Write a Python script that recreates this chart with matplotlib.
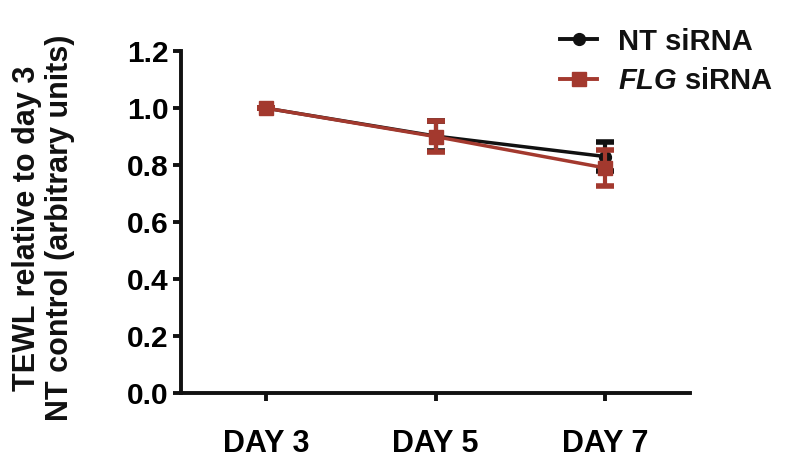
import matplotlib
matplotlib.use("Agg")
import matplotlib.pyplot as plt
from matplotlib.lines import Line2D

plt.rcParams['font.family'] = ['Liberation Sans', 'DejaVu Sans']
plt.rcParams['font.weight'] = 'bold'
plt.rcParams['mathtext.fontset'] = 'custom'
plt.rcParams['mathtext.bfit'] = 'Liberation Sans:italic:bold'
plt.rcParams['mathtext.it'] = 'Liberation Sans:italic:bold'
plt.rcParams['mathtext.rm'] = 'Liberation Sans:bold'

categories = ["DAY 3", "DAY 5", "DAY 7"]
nt_mean = [1.0, 0.902, 0.83]
nt_err = [0.0, 0.052, 0.05]
flg_mean = [1.0, 0.90, 0.79]
flg_err = [0.0, 0.054, 0.063]
yticks = [0.0, 0.2, 0.4, 0.6, 0.8, 1.0, 1.2]

black = "#111111"
red = "#A3392E"

fig = plt.figure(figsize=(7.98, 4.61), dpi=100)
ax = fig.add_axes([0.227, 0.1475, 0.638, 0.7415])
x = list(range(len(categories)))

ax.errorbar(x, nt_mean, yerr=nt_err, color=black, marker='o', markersize=8.5,
            linewidth=2.5, elinewidth=3, capsize=6.5, capthick=4, zorder=3)
ax.errorbar(x, flg_mean, yerr=flg_err, color=red, marker='s', markersize=10,
            linewidth=2.5, elinewidth=3, capsize=6.5, capthick=4, zorder=4)

ax.set_xlim(-0.5, 2.5)
ax.set_ylim(0, 1.2)
ax.set_yticks(yticks)
ax.set_yticklabels([f"{v:.1f}" for v in yticks])
ax.set_xticks(x)
ax.set_xticklabels(categories)
for s in ['top', 'right']:
    ax.spines[s].set_visible(False)
for s in ['left', 'bottom']:
    ax.spines[s].set_linewidth(2.8)
    ax.spines[s].set_color(black)
ax.tick_params(axis='both', width=2.8, length=6, color=black, pad=3)
ax.tick_params(axis='y', labelsize=21.5)
ax.tick_params(axis='x', labelsize=22, pad=20)

fig.text(43.5 / 798, 1 - 228 / 461, "TEWL relative to day 3\nNT control (arbitrary units)",
         rotation=90, ha='center', va='center', fontsize=22, fontweight='bold',
         linespacing=1.15, color=black)

handles = [Line2D([], [], color=black, marker='o', markersize=8.5, linewidth=2.8),
           Line2D([], [], color=red, marker='s', markersize=9.5, linewidth=2.8)]
labels = ["NT siRNA", r"$\mathit{FLG}$ siRNA"]
leg = fig.legend(handles, labels, loc='upper left', bbox_to_anchor=(0.702, 0.94),
                 frameon=False, fontsize=21, handlelength=1.27, handletextpad=0.72,
                 labelspacing=0.4, borderpad=0, borderaxespad=0)
for t in leg.get_texts():
    t.set_color(black)

fig.savefig("out.png", dpi=100)
